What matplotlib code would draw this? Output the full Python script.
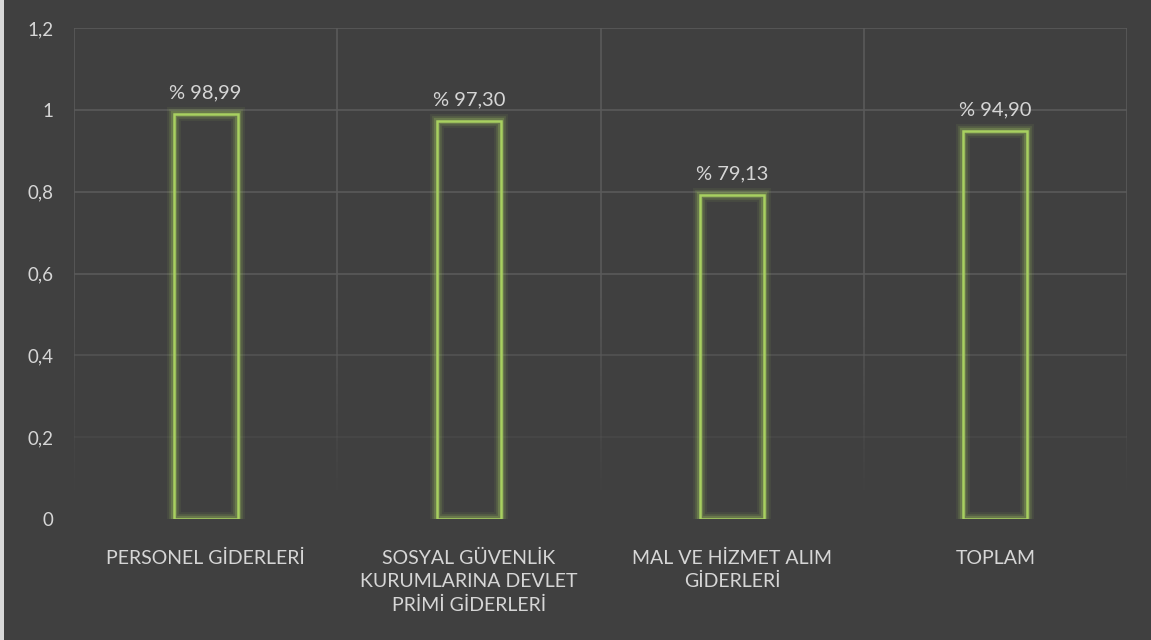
import matplotlib
matplotlib.use("Agg")
import matplotlib.pyplot as plt
import numpy as np
from matplotlib.collections import LineCollection

categories = ["PERSONEL GİDERLERİ",
              "SOSYAL GÜVENLİK\nKURUMLARINA DEVLET\nPRİMİ GİDERLERİ",
              "MAL VE HİZMET ALIM\nGİDERLERİ",
              "TOPLAM"]
values = [0.9899, 0.9730, 0.7913, 0.9490]
value_labels = ["% 98,99", "% 97,30", "% 79,13", "% 94,90"]
y_ticks = [0, 0.2, 0.4, 0.6, 0.8, 1.0, 1.2]
y_tick_labels = ["0", "0,2", "0,4", "0,6", "0,8", "1", "1,2"]

BG = "#404040"
GRID = "#5a5a5a"
TXT = "#d6d6d6"
GREEN = "#a8d060"
FONT = ["Lato", "DejaVu Sans"]

fig = plt.figure(figsize=(11.51, 6.4), dpi=100, facecolor=BG)
fig.patches.append(plt.Rectangle((0, 0), 4/1151, 1, transform=fig.transFigure,
                                 facecolor="#d9d9d9", edgecolor="none"))
ax = fig.add_axes([74/1151, 1-519/640, (1127-74)/1151, (519-28)/640])
ax.set_facecolor(BG)
n = len(categories)
ax.set_xlim(-0.5, n - 0.5)
ax.set_ylim(0, 1.2)

def fade(y):
    return float(np.clip((y - 0.05) / 0.5, 0, 1))

for yt in y_ticks:
    a = fade(yt)
    if a > 0:
        ax.axhline(yt, color=GRID, lw=1.2, alpha=a, zorder=0)
ys = np.linspace(0, 1.2, 121)
for xv in np.arange(-0.5, n, 1.0):
    segs = [[(xv, ys[i]), (xv, ys[i+1])] for i in range(len(ys)-1)]
    cols = [(0x5a/255, 0x5a/255, 0x5a/255, fade((ys[i]+ys[i+1])/2)) for i in range(len(ys)-1)]
    ax.add_collection(LineCollection(segs, colors=cols, linewidths=1.2, zorder=0))

x = np.arange(n)
w = 0.243
for lw, al in [(10, 0.08), (7, 0.14), (4.5, 0.25)]:
    ax.bar(x, values, width=w, facecolor="none", edgecolor=GREEN, linewidth=lw,
           alpha=al, zorder=2)
ax.bar(x, values, width=w, facecolor="none", edgecolor=GREEN, linewidth=1.8, zorder=3)

for xi, v, lab in zip(x, values, value_labels):
    ax.annotate(lab, (xi, v), xytext=(0, 9), textcoords="offset points",
                ha="center", va="bottom", color=TXT, fontsize=14.5, family=FONT)

ax.set_xticks(x)
ax.set_xticklabels(categories, color=TXT, fontsize=14, family=FONT, linespacing=1.45,
                   va="top")
ax.set_yticks(y_ticks)
ax.set_yticklabels(y_tick_labels, color=TXT, fontsize=13.5, family=FONT)
ax.tick_params(axis="both", length=0)
ax.tick_params(axis="y", pad=15)
ax.tick_params(axis="x", pad=22)
for s in ax.spines.values():
    s.set_visible(False)

fig.savefig("out.png", dpi=100, facecolor=BG)
